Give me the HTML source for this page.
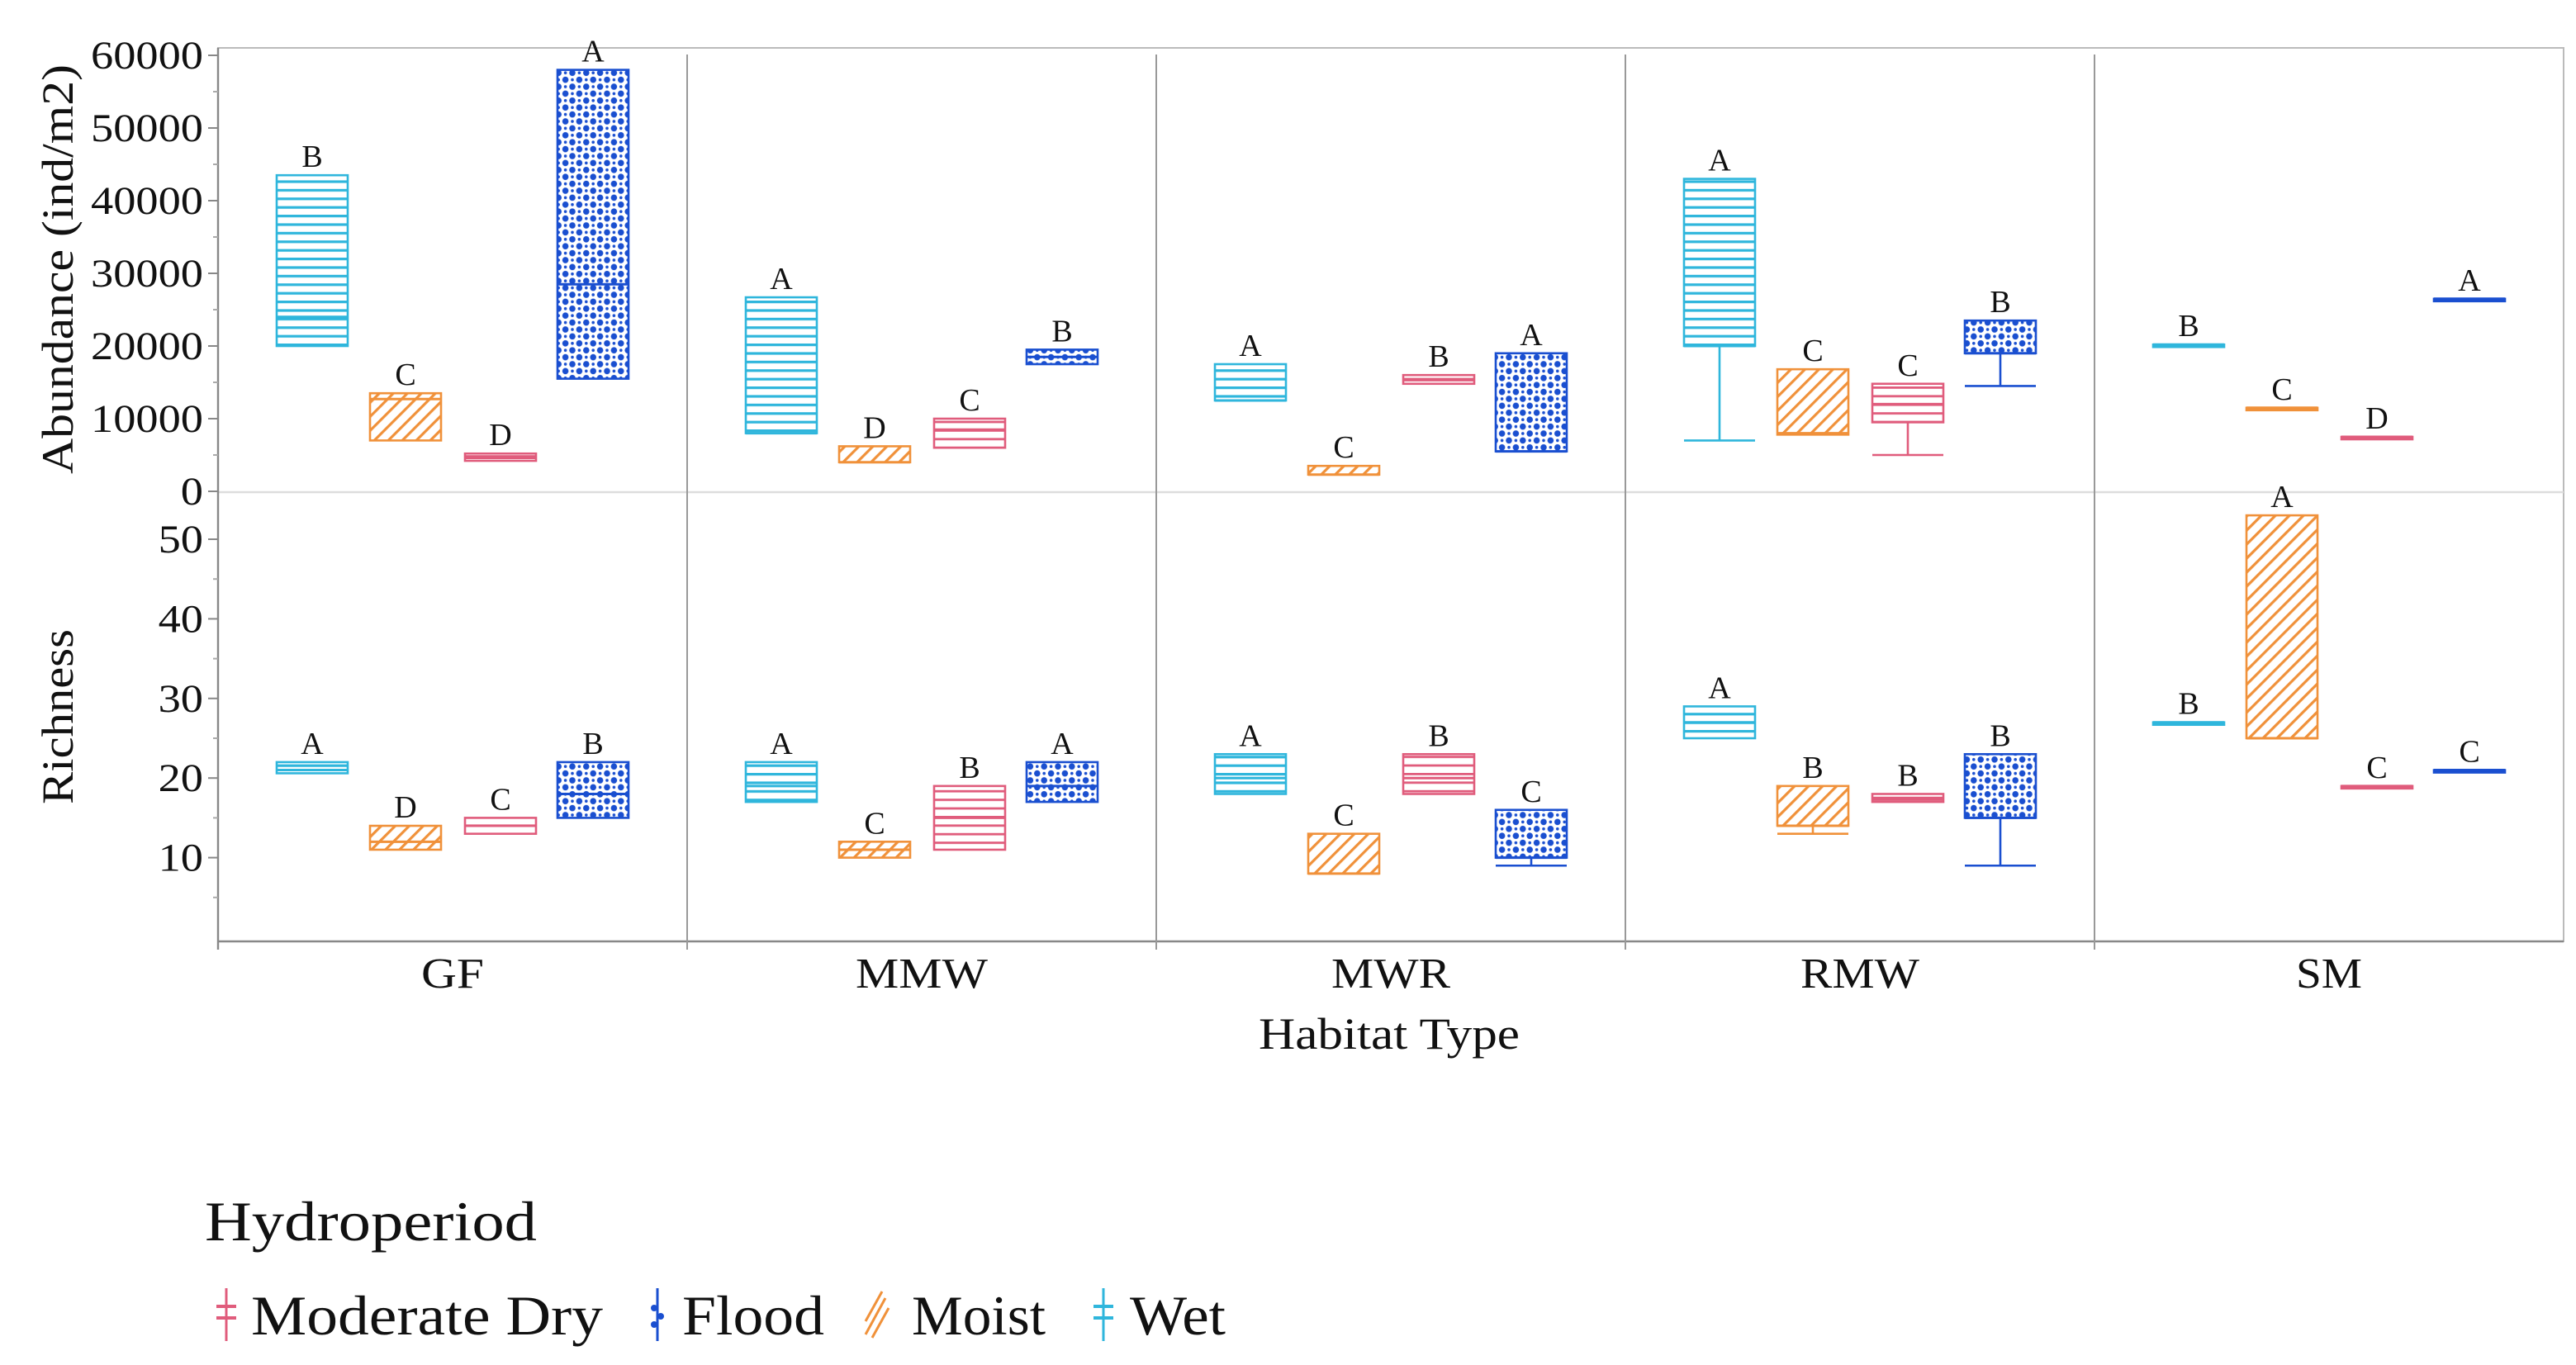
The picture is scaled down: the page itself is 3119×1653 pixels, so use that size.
<!DOCTYPE html>
<html><head><meta charset="utf-8"><style>
html,body{margin:0;padding:0;background:#fff;}
svg{display:block;}
text{font-family:"Liberation Serif",serif;fill:#111;}
</style></head><body>
<svg id="chart" width="3119" height="1653" viewBox="0 0 1559.5 826.5" xmlns="http://www.w3.org/2000/svg">
<defs>
 <pattern id="pWet" patternUnits="userSpaceOnUse" width="8" height="5.2"><rect width="8" height="5.2" fill="#fff"/><rect y="0" width="8" height="1.6" fill="#2fb6dc"/></pattern>
 <pattern id="pDry" patternUnits="userSpaceOnUse" width="8" height="5.2"><rect width="8" height="5.2" fill="#fff"/><rect y="0" width="8" height="1.4" fill="#e05c7c"/></pattern>
 <pattern id="pMoist" patternUnits="userSpaceOnUse" width="6" height="6" patternTransform="rotate(45)"><rect width="6" height="6" fill="#fff"/><rect width="1.6" height="6" fill="#f0913a"/></pattern>
 <pattern id="pFlood" patternUnits="userSpaceOnUse" width="8.4" height="8.4"><rect width="8.4" height="8.4" fill="#fff"/><circle cx="2.1" cy="2.1" r="1.9" fill="#1a4fd0"/><circle cx="6.3" cy="6.3" r="1.9" fill="#1a4fd0"/><circle cx="6.3" cy="2.1" r="0.9" fill="#1a4fd0"/><circle cx="2.1" cy="6.3" r="0.9" fill="#1a4fd0"/></pattern>
</defs>
<g id="frame"></g>
<g id="marks"></g>
<text transform="translate(44,163) rotate(-90)" text-anchor="middle" font-size="27" textLength="248" lengthAdjust="spacingAndGlyphs">Abundance (ind/m2)</text>
<text transform="translate(44,434) rotate(-90)" text-anchor="middle" font-size="27" textLength="106" lengthAdjust="spacingAndGlyphs">Richness</text>
<text x="841" y="635" text-anchor="middle" font-size="27" textLength="158" lengthAdjust="spacingAndGlyphs">Habitat Type</text>
<text x="124" y="751" font-size="34" textLength="201" lengthAdjust="spacingAndGlyphs">Hydroperiod</text>
<g>
 <g><line x1="137" y1="780" x2="137" y2="812" stroke="#e05c7c" stroke-width="1.5"/><rect x="131" y="790" width="12" height="2" fill="#e05c7c"/><rect x="131" y="797" width="12" height="2" fill="#e05c7c"/><text x="152" y="808" font-size="34" textLength="213" lengthAdjust="spacingAndGlyphs">Moderate Dry</text></g>
 <g><line x1="398" y1="780" x2="398" y2="812" stroke="#1a4fd0" stroke-width="1.5"/><circle cx="396" cy="792" r="2" fill="#1a4fd0"/><circle cx="400" cy="797" r="2" fill="#1a4fd0"/><circle cx="396" cy="802" r="2" fill="#1a4fd0"/><text x="413" y="808" font-size="34" textLength="86" lengthAdjust="spacingAndGlyphs">Flood</text></g>
 <g><path d="M524,808 L536,786 M528,810 L538,792 M524,800 L534,782" stroke="#f0913a" stroke-width="1.5"/><text x="552" y="808" font-size="34" textLength="81" lengthAdjust="spacingAndGlyphs">Moist</text></g>
 <g><line x1="668" y1="780" x2="668" y2="812" stroke="#2fb6dc" stroke-width="1.5"/><rect x="662" y="790" width="12" height="2" fill="#2fb6dc"/><rect x="662" y="797" width="12" height="2" fill="#2fb6dc"/><text x="684" y="808" font-size="34" textLength="58" lengthAdjust="spacingAndGlyphs">Wet</text></g>
</g>
</svg>
<script>
const habitats = ["GF","MMW","MWR","RMW","SM"];
const groups = ["Wet","Moist","ModerateDry","Flood"];
const abTicks = [0,10000,20000,30000,40000,50000,60000];
const riTicks = [10,20,30,40,50];
// abundance: [q1,q3,median,whiskerLow,whiskerHigh] per habitat per group
const abWet   = [[20000,43500,24000,20000,43500],[8000,26700,8000,8000,26700],[12500,17500,12500,12500,17500],[20000,43000,20000,7000,43000],[20200,20200,20200,20200,20200]];
const abMoist = [[7000,13500,12700,7000,13500],[4000,6200,4000,4000,6200],[2300,3500,2300,2300,3500],[7800,16800,8000,7800,16800],[11500,11500,11500,11500,11500]];
const abDry   = [[4200,5200,4600,4200,5200],[6000,10000,8500,6000,10000],[14800,16000,15300,14800,16000],[9500,14800,12000,5000,14800],[7500,7500,7500,7500,7500]];
const abFlood = [[15500,58000,28500,15500,58000],[17500,19500,18500,17500,19500],[5500,19000,5500,5500,19000],[19000,23500,19000,14500,23500],[26500,26500,26500,26500,26500]];
const abLetters = [["B","C","D","A"],["A","D","C","B"],["A","C","B","A"],["A","C","C","B"],["B","C","D","A"]];
const riWet   = [[20.6,22,21,20.6,22],[17,22,19,17,22],[18,23,20,18,23],[25,29,27,25,29],[27,27,27,27,27]];
const riMoist = [[11,14,12,11,14],[10,12,11,10,12],[8,13,8,8,13],[14,19,14,13,19],[25,53,25,25,53]];
const riDry   = [[13,15,14,13,15],[11,19,15,11,19],[18,23,20,18,23],[17,18,17.5,17,18],[19,19,19,19,19]];
const riFlood = [[15,22,18,15,22],[17,22,19,17,22],[10,16,10,9,16],[15,23,15,9,23],[21,21,21,21,21]];
const riLetters = [["A","D","C","B"],["A","C","B","A"],["A","C","B","C"],["A","B","B","B"],["B","A","C","C"]];

const NS="http://www.w3.org/2000/svg";
const X0=132, PW=284, X1=X0+PW*5;
const yAb = v => 297.5 - v*0.0044;
const yRi = v => 567.5 - v*4.82;
const fills = {Wet:"url(#pWet)",Moist:"url(#pMoist)",ModerateDry:"url(#pDry)",Flood:"url(#pFlood)"};
const strokes = {Wet:"#2fb6dc",Moist:"#f0913a",ModerateDry:"#e05c7c",Flood:"#1a4fd0"};
const boxW=43, offs=[57,113.5,171,227];
function mk(tag, attrs, parent){const e=document.createElementNS(NS,tag);for(const k in attrs)e.setAttribute(k,attrs[k]);parent.appendChild(e);return e;}
const frame=document.getElementById('frame'), marks=document.getElementById('marks');
mk('rect',{x:X0,y:29,width:X1-X0,height:541,fill:'none',stroke:'#bbb','stroke-width':1},frame);
mk('line',{x1:X0,y1:298,x2:X1,y2:298,stroke:'#ddd','stroke-width':1.2},frame);
mk('line',{x1:X0,y1:570,x2:X1,y2:570,stroke:'#888','stroke-width':1.2},frame);
mk('line',{x1:X0,y1:29,x2:X0,y2:575,stroke:'#888','stroke-width':1.2},frame);
for(let i=1;i<5;i++){const l=mk('line',{x1:X0+PW*i,y1:33,x2:X0+PW*i,y2:575,stroke:'#999','stroke-width':1},frame);

}
abTicks.forEach(v=>{mk('line',{x1:X0-6,y1:yAb(v),x2:X0,y2:yAb(v),stroke:'#888'},frame);
const t=mk('text',{x:X0-9,y:yAb(v)+8,'text-anchor':'end','font-size':24},frame);t.textContent=v;
t.setAttribute('textLength', String(v).length*13.6);
t.setAttribute('lengthAdjust','spacingAndGlyphs');


if(v<60000) mk('line',{x1:X0-3,y1:yAb(v+5000),x2:X0,y2:yAb(v+5000),stroke:'#aaa'},frame);});
riTicks.forEach(v=>{mk('line',{x1:X0-6,y1:yRi(v),x2:X0,y2:yRi(v),stroke:'#888'},frame);
const t=mk('text',{x:X0-9,y:yRi(v)+8,'text-anchor':'end','font-size':24},frame);t.textContent=v;
t.setAttribute('textLength', String(v).length*13.6);
t.setAttribute('lengthAdjust','spacingAndGlyphs');


mk('line',{x1:X0-3,y1:yRi(v-5),x2:X0,y2:yRi(v-5),stroke:'#aaa'},frame);});
const xLabW=[38,80,72,72,40];
habitats.forEach((h,i)=>{const t=mk('text',{x:X0+PW*i+PW/2,y:598,'text-anchor':'middle','font-size':26},frame);t.textContent=h;
t.setAttribute('textLength', xLabW[i]);
t.setAttribute('lengthAdjust','spacingAndGlyphs');

});
function drawBox(d,g,hi,gi,yf,letter){
  const cx=X0+PW*hi+offs[gi], x=cx-boxW/2, col=strokes[g];
  const [q1,q3,med,wl,wh]=d;
  if(wl<q1){mk('line',{x1:cx,y1:yf(q1),x2:cx,y2:yf(wl),stroke:col,'stroke-width':1.3},marks);mk('line',{x1:x,y1:yf(wl),x2:x+boxW,y2:yf(wl),stroke:col,'stroke-width':1.3},marks);}
  if(wh>q3){mk('line',{x1:cx,y1:yf(q3),x2:cx,y2:yf(wh),stroke:col,'stroke-width':1.3},marks);}
  const h=Math.max(yf(q1)-yf(q3),1.5);
  const r=mk('rect',{x:x,y:yf(q3),width:boxW,height:h,fill:h>2?fills[g]:col,stroke:col,'stroke-width':1.3},marks);
  
  
  mk('line',{x1:x,y1:yf(med),x2:x+boxW,y2:yf(med),stroke:col,'stroke-width':1.5},marks);
  const t=mk('text',{x:cx,y:yf(Math.max(q3,wh))-5,'text-anchor':'middle','font-size':19},marks);t.textContent=letter;
  
  
}
const abSets=[abWet,abMoist,abDry,abFlood], riSets=[riWet,riMoist,riDry,riFlood];
habitats.forEach((h,hi)=>groups.forEach((g,gi)=>{
  drawBox(abSets[gi][hi],g,hi,gi,yAb,abLetters[hi][gi]);
  drawBox(riSets[gi][hi],g,hi,gi,yRi,riLetters[hi][gi]);
}));
</script>
</body></html>
